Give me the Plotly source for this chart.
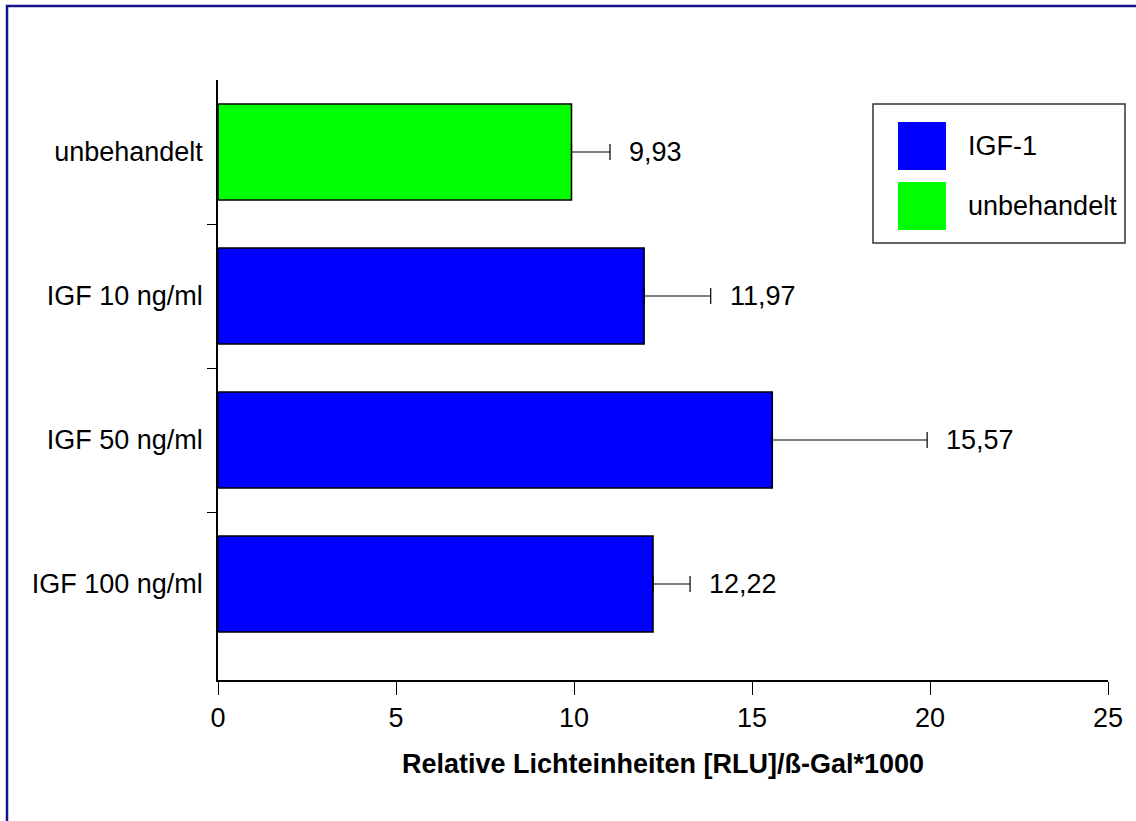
import plotly.graph_objects as go

# Data
categories = ["unbehandelt", "IGF 10 ng/ml", "IGF 50 ng/ml", "IGF 100 ng/ml"]
groups = ["unbehandelt", "IGF-1", "IGF-1", "IGF-1"]
values = [9.93, 11.97, 15.57, 12.22]
errors = [1.08, 1.87, 4.35, 1.04]
legend_names = ["IGF-1", "unbehandelt"]
group_colors = {"IGF-1": "#0000FF", "unbehandelt": "#00FF00"}
x_ticks = [0, 5, 10, 15, 20, 25]
x_title = "Relative Lichteinheiten [RLU]/ß-Gal*1000"

FONT = "Arial, Liberation Sans, sans-serif"
FS = 27
positions = list(range(len(categories)))

fig = go.Figure()

for name in legend_names:
    idx = [i for i, g in enumerate(groups) if g == name]
    fig.add_trace(go.Bar(
        orientation="h",
        x=[values[i] for i in idx],
        y=[positions[i] for i in idx],
        width=0.667,
        name=name,
        showlegend=False,
        marker=dict(color=group_colors[name], line=dict(color="black", width=1.5)),
        error_x=dict(type="data", symmetric=False,
                     array=[errors[i] for i in idx],
                     arrayminus=[0] * len(idx),
                     color="black", thickness=1.2, width=8),
    ))

# value labels to the right of each error bar
for p, v, e in zip(positions, values, errors):
    fig.add_annotation(x=v + e, y=p, text=f"{v:.2f}".replace(".", ","),
                       showarrow=False, xanchor="left", yanchor="middle",
                       xshift=17, font=dict(size=FS, color="black", family=FONT))

# frame around the whole figure
plot_l, plot_r, plot_t, plot_b = 218, 1108, 80, 680
pw, ph = plot_r - plot_l, plot_b - plot_t


def px(x):
    return (x - plot_l) / pw


def py(y):
    return (plot_b - y) / ph


fig.add_shape(type="rect", xref="paper", yref="paper",
              x0=px(7), x1=px(1145), y0=py(830), y1=py(6),
              line=dict(color="#14148c", width=2.5), fillcolor="rgba(0,0,0,0)", layer="below")

# legend box with large swatches
fig.add_shape(type="rect", xref="paper", yref="paper",
              x0=px(873), x1=px(1125), y0=py(243), y1=py(104),
              line=dict(color="#333333", width=1.5), fillcolor="white")
for k, name in enumerate(legend_names):
    top = 122 + 60 * k
    fig.add_shape(type="rect", xref="paper", yref="paper",
                  x0=px(898), x1=px(946), y0=py(top + 48), y1=py(top),
                  line=dict(width=0), fillcolor=group_colors[name])
    fig.add_annotation(xref="paper", yref="paper", x=px(966), y=py(top + 24),
                       text=name, showarrow=False, xanchor="left", yanchor="middle",
                       font=dict(size=FS, color="black", family=FONT))

fig.update_layout(
    width=1136, height=821,
    margin=dict(l=plot_l, r=1136 - plot_r, t=plot_t, b=821 - plot_b),
    paper_bgcolor="white", plot_bgcolor="white",
    barmode="overlay",
    font=dict(family=FONT, size=FS, color="black"),
    xaxis=dict(range=[0, 25], tickvals=x_ticks, ticks="outside", ticklen=13,
               tickwidth=1, tickcolor="black", showline=True, linecolor="black",
               linewidth=1.5, showgrid=False, zeroline=False,
               tickfont=dict(size=FS),
               title=dict(text="<b>" + x_title + "</b>", font=dict(size=FS), standoff=22)),
    yaxis=dict(range=[3.6667, -0.5], tickvals=positions, ticktext=categories,
               ticks="", showline=True, linecolor="black", linewidth=1.5,
               showgrid=False, zeroline=False, tickfont=dict(size=FS),
               ticklabelstandoff=8,
               minor=dict(tickvals=[p + 0.5 for p in positions[:-1]], ticks="outside",
                          ticklen=9, tickwidth=1, tickcolor="black", showgrid=False)),
)

fig.write_html("out.html")
